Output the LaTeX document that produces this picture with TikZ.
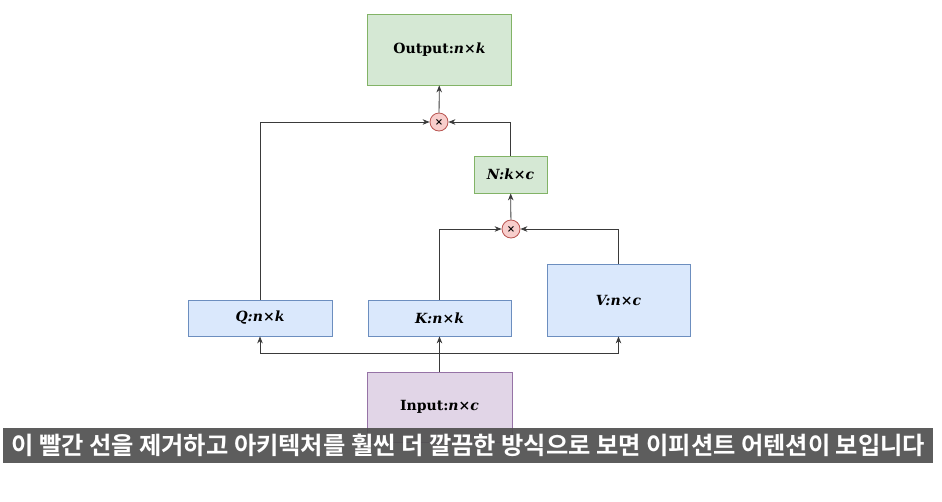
\documentclass[tikz,border=0pt]{standalone}
\usepackage{fontspec}
\newfontfamily\lblfont{DejaVu Serif}
\newfontfamily\krfont{Noto Sans CJK KR}[BoldFont={Noto Sans CJK KR Bold}]
\usetikzlibrary{arrows.meta,calc}
\definecolor{gfill}{HTML}{D5E8D4}\definecolor{gline}{HTML}{82B366}
\definecolor{bfill}{HTML}{DAE8FC}\definecolor{bline}{HTML}{6C8EBF}
\definecolor{pfill}{HTML}{E1D5E7}\definecolor{pline}{HTML}{9673A6}
\definecolor{rfill}{HTML}{F8CECC}\definecolor{rline}{HTML}{B85450}
\definecolor{conn}{HTML}{3A3A3A}
\definecolor{barc}{HTML}{505050}
\newcommand{\vi}[1]{\textit{#1}}
\begin{document}
\begin{tikzpicture}[x=1pt,y=-1pt,
  box/.style={draw, line width=0.8pt, inner sep=0pt, font=\lblfont\fontsize{14}{17}\selectfont\bfseries},
  gbox/.style={box, fill=gfill, draw=gline},
  bbox/.style={box, fill=bfill, draw=bline},
  pbox/.style={box, fill=pfill, draw=pline},
  mult/.style={circle, draw=rline, fill=rfill, line width=0.8pt, minimum size=18pt, inner sep=0pt, font=\lblfont\fontsize{10}{10}\selectfont\bfseries},
  arr/.style={draw=conn, line width=0.8pt, -{Stealth[length=7pt,width=5.5pt]}}]
\useasboundingbox[fill=white] (0,0) rectangle (942,501);
\node[gbox, minimum width=144pt, minimum height=71pt] (out) at (439.5,49.5) {Output:\vi{n×k}};
\node[mult] (m1) at (439,122) {×};
\node[gbox, minimum width=73pt, minimum height=37pt] (nkc) at (510.5,174.5) {\vi{N:k×c}};
\node[mult] (m2) at (511,229) {×};
\node[bbox, minimum width=144pt, minimum height=36pt] (Q) at (260,318) {\vi{Q:n×k}};
\node[bbox, minimum width=143pt, minimum height=36pt] (K) at (439.5,318) {\vi{K:n×k}};
\node[bbox, minimum width=143pt, minimum height=72pt] (V) at (618.5,300) {\vi{V:n×c}};
\node[pbox, minimum width=145pt, minimum height=70pt] (in) at (439.5,407) {Input:\vi{n×c}};
\coordinate (bus) at (439.5,353);
% connectors
\draw[arr] (m1) -- (out);
\draw[arr] (Q.north) |- (m1);
\draw[arr] (nkc.north) |- (m1);
\draw[arr] (m2) -- (nkc);
\draw[arr] (K.north) |- (m2);
\draw[arr] (V.north) |- (m2);
\draw[arr] (in.north) -- (K.south);
\draw[arr] (bus) -| (Q.south);
\draw[arr] (bus) -| (V.south);
% subtitle bar
\node[fill=barc, fill opacity=0.92, text opacity=1, text=white, minimum width=930pt, minimum height=35pt, inner sep=0pt, anchor=north west] (sub) at (3,428)
  {\krfont\bfseries\resizebox{914pt}{!}{\fontsize{24}{26}\selectfont 이 빨간 선을 제거하고 아키텍처를 훨씬 더 깔끔한 방식으로 보면 이피션트 어텐션이 보입니다}};
\end{tikzpicture}
\end{document}
